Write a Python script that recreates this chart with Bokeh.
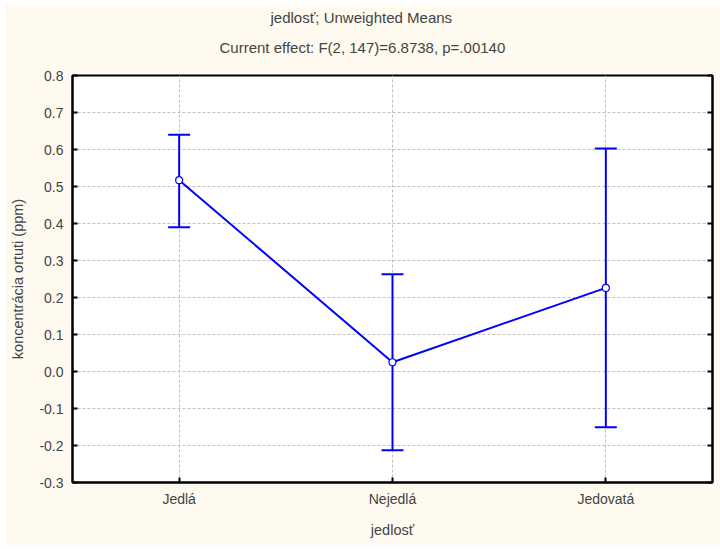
from bokeh.plotting import figure
from bokeh.models import (ColumnDataSource, Whisker, TeeHead, FixedTicker, LinearAxis,
                          NumeralTickFormatter, Range1d, FactorRange, Title,
                          CustomJSTickFormatter)
from bokeh.embed import file_html
from bokeh.resources import INLINE

categories = ["Jedlá", "Nejedlá", "Jedovatá"]
means = [0.517, 0.025, 0.226]
lower = [0.390, -0.213, -0.151]
upper = [0.640, 0.263, 0.603]
y_ticks = [-0.3, -0.2, -0.1, 0.0, 0.1, 0.2, 0.3, 0.4, 0.5, 0.6, 0.7, 0.8]
title1 = "jedlosť; Unweighted Means"
title2 = "Current effect: F(2, 147)=6.8738, p=.00140"
x_label = "jedlosť"
y_label = "koncentrácia ortuti (ppm)"

FONT = "Liberation Sans"
BG = "#FEFAEF"
BLUE = "#0000FF"

src = ColumnDataSource(dict(x=categories, m=means, lo=lower, hi=upper))

p = figure(width=716, height=541, x_range=FactorRange(*categories),
           y_range=Range1d(-0.3, 0.8), output_backend="svg", toolbar_location=None,
           min_border_left=68, min_border_right=8, min_border_top=71, min_border_bottom=63)
p.margin = (4, 0, 4, 4)
p.background_fill_color = "white"
p.border_fill_color = BG
p.outline_line_color = "black"
p.outline_line_width = 2

# grids
for g in (p.xgrid, p.ygrid):
    g.grid_line_color = "#C0C0C0"
    g.grid_line_dash = "3 2"
    g.grid_line_width = 1
p.ygrid.ticker = FixedTicker(ticks=y_ticks)

# y axis
ya = p.yaxis[0]
ya.ticker = FixedTicker(ticks=y_ticks)
ya.formatter = NumeralTickFormatter(format="0.0")
ya.axis_label = y_label
ya.axis_label_text_font = FONT
ya.axis_label_text_font_size = "14.5px"
ya.axis_label_text_font_style = "normal"
ya.axis_label_standoff = 10
ya.major_label_text_font = FONT
ya.major_label_text_font_size = "14px"
ya.major_label_standoff = 9
ya.major_tick_in = 5
ya.major_tick_out = 0
ya.minor_tick_line_color = None
ya.axis_line_width = 2
ya.major_tick_line_width = 2

# x axis
xa = p.xaxis[0]
xa.axis_label = x_label
xa.axis_label_text_font = FONT
xa.axis_label_text_font_size = "14.5px"
xa.axis_label_text_font_style = "normal"
xa.axis_label_standoff = 12
xa.major_label_text_font = FONT
xa.major_label_text_font_size = "14px"
xa.major_label_standoff = 8
xa.major_tick_in = 5
xa.major_tick_out = 0
xa.axis_line_width = 2
xa.major_tick_line_width = 2

# right axis with inward ticks, no labels
ra = LinearAxis(ticker=FixedTicker(ticks=y_ticks),
                formatter=CustomJSTickFormatter(code="return ''"),
                major_label_standoff=0, major_tick_in=5, major_tick_out=0,
                minor_tick_line_color=None, axis_line_width=2, major_tick_line_width=2)
p.add_layout(ra, "right")

# error bars
w = Whisker(base="x", upper="hi", lower="lo", source=src,
            line_color=BLUE, line_width=2,
            upper_head=TeeHead(size=22, line_color=BLUE, line_width=2),
            lower_head=TeeHead(size=22, line_color=BLUE, line_width=2))
p.add_layout(w)

p.line("x", "m", source=src, line_color=BLUE, line_width=2)
p.scatter("x", "m", source=src, size=7, fill_color="white", line_color=BLUE, line_width=1.2)

# titles (left-aligned with offsets so they centre on the whole chart)
t2 = Title(text=title2, align="left", offset=147, text_font=FONT, text_font_size="15px",
           text_font_style="normal", standoff=40)
t1 = Title(text=title1, align="left", offset=198, text_font=FONT, text_font_size="15px",
           text_font_style="normal", standoff=-18)
p.add_layout(t2, "above")
p.add_layout(t1, "above")

open("out.html", "w").write(file_html(p, INLINE))
